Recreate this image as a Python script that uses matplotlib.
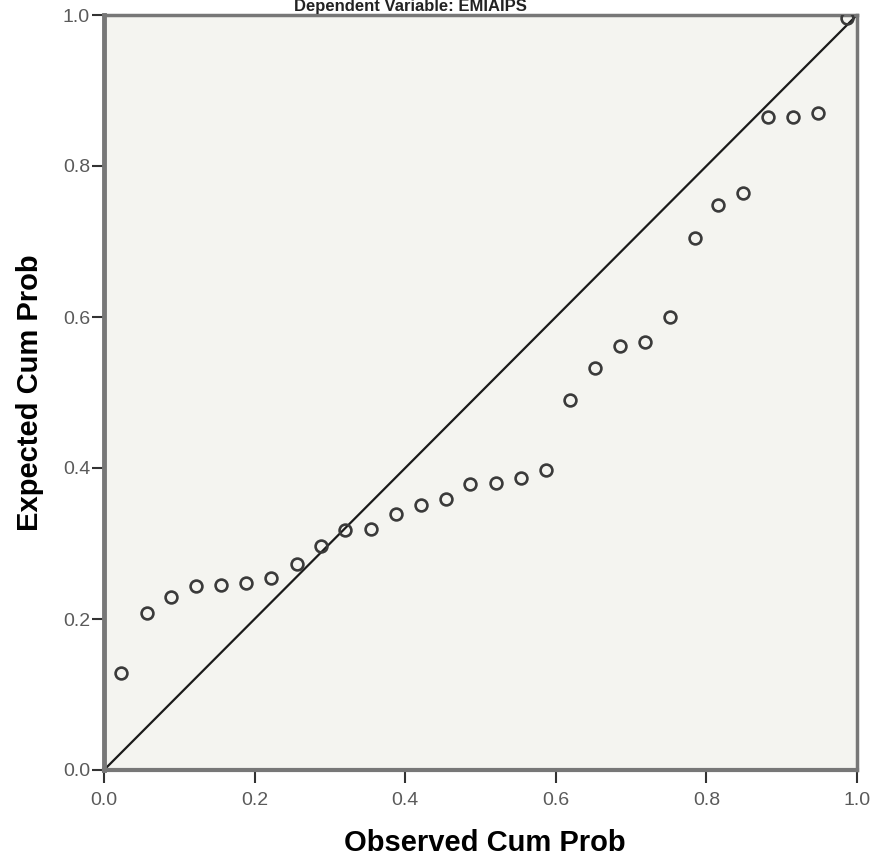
import numpy as np
import matplotlib
matplotlib.use("Agg")
import matplotlib.pyplot as plt

plt.rcParams['font.family'] = ['Liberation Sans', 'DejaVu Sans']

# observed vs expected cumulative probability
observed = [0.023, 0.057, 0.089, 0.122, 0.155, 0.189, 0.222, 0.256, 0.288, 0.320,
            0.355, 0.388, 0.421, 0.454, 0.486, 0.521, 0.554, 0.587, 0.619, 0.652,
            0.685, 0.718, 0.752, 0.785, 0.815, 0.849, 0.882, 0.915, 0.948, 0.987]
expected = [0.128, 0.208, 0.229, 0.244, 0.245, 0.248, 0.254, 0.273, 0.297, 0.318,
            0.319, 0.339, 0.351, 0.359, 0.379, 0.380, 0.387, 0.397, 0.490, 0.532,
            0.562, 0.567, 0.600, 0.705, 0.748, 0.764, 0.865, 0.865, 0.870, 0.996]
ticks = [0.0, 0.2, 0.4, 0.6, 0.8, 1.0]
tick_labels = ['0.0', '0.2', '0.4', '0.6', '0.8', '1.0']

fig = plt.figure(figsize=(8.78, 8.64), dpi=100)
ax = fig.add_axes([104 / 878, 94 / 864, 753 / 878, 755 / 864])
ax.set_facecolor('#f4f4f0')

ax.plot([0, 1], [0, 1], color='#1a1a1a', lw=1.6, zorder=2)
ax.plot(observed, expected, linestyle='none', marker='o', markersize=8.5,
        markerfacecolor='none', markeredgecolor='#3a3a3a', markeredgewidth=1.9, zorder=3)

ax.set_xlim(0, 1)
ax.set_ylim(0, 1)
ax.set_xticks(ticks)
ax.set_xticklabels(tick_labels)
ax.set_yticks(ticks)
ax.set_yticklabels(tick_labels)
ax.tick_params(direction='out', length=9, width=1.5, color='#333333',
               labelsize=14, labelcolor='#5a5a5a')
ax.tick_params(axis='x', pad=7)
ax.tick_params(axis='y', pad=1)

for side in ['top', 'right', 'bottom', 'left']:
    ax.spines[side].set_color('#777777')
    ax.spines[side].set_linewidth(2.5)
ax.spines['left'].set_linewidth(3.5)
ax.spines['bottom'].set_linewidth(3.0)

ax.set_xlabel('Observed Cum Prob', fontsize=21, fontweight='bold')
ax.set_ylabel('Expected Cum Prob', fontsize=21, fontweight='bold')
ax.xaxis.label.set_va('center')
ax.yaxis.label.set_va('center')
ax.xaxis.set_label_coords((485 - 104) / 753, (770 - 843) / 755)
ax.yaxis.set_label_coords((30 - 104) / 753, 0.5)

# title sits in the thin strip above the frame
fig.text(410 / 878, 1 - 7 / 864, 'Dependent Variable: EMIAIPS', ha='center', va='center',
         fontsize=12, fontweight='bold', color='#222222')

fig.savefig('out.png', dpi=100, facecolor='white')
